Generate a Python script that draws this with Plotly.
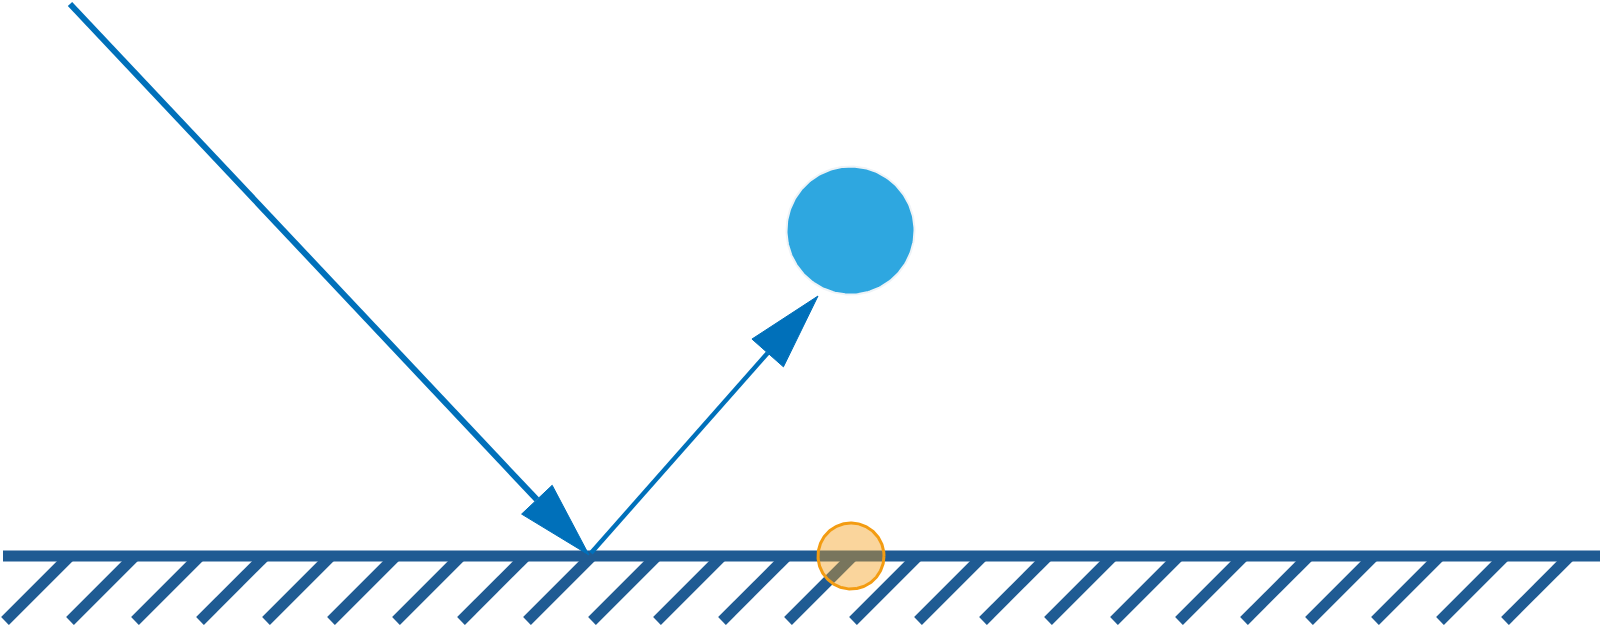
import numpy as np
import plotly.graph_objects as go

# --- data (pixel units, y grows downward) ---
surface_x = [3, 1600]
surface_y = [556, 556]

# bottom ends of the hatch strokes under the surface
hatch_x = [5, 70, 135, 200, 266, 331, 396, 461, 527, 592, 657, 722,
           788, 853, 918, 983, 1048, 1114, 1179, 1244, 1309, 1375, 1440, 1505]
hatch_bottom_y = 621
hatch_top_y = 556

# incoming and reflected rays (start -> arrow tip)
incident_x = [70, 589]
incident_y = [4, 555]
reflected_x = [591, 818]
reflected_y = [553, 296]

ball_center = [850.5, 230.5]
ball_radius = 64
spot_center = [851, 556]
spot_radius = 33

RAY = "#0070BA"
GROUND = "#1F5B93"


def arrow(xs, ys, head_len=76, head_half=21):
    """shaft end point and triangle vertices for an arrow ending at the last point"""
    p0 = np.array([xs[0], ys[0]], dtype=float)
    tip = np.array([xs[1], ys[1]], dtype=float)
    u = (tip - p0) / np.linalg.norm(tip - p0)
    n = np.array([-u[1], u[0]])
    base = tip - head_len * u
    tri = [tip, base + head_half * n, base - head_half * n, tip]
    return base, [p[0] for p in tri], [p[1] for p in tri]


def ring(center, r, n=240):
    # outline of a circle as a closed polygon (smoother than the marker/shape path here)
    t = np.linspace(0, 2 * np.pi, n)
    return center[0] + r * np.cos(t), center[1] + r * np.sin(t)


fig = go.Figure()

# hatches
hx, hy = [], []
for x in hatch_x:
    hx += [x, x + (hatch_bottom_y - hatch_top_y), None]
    hy += [hatch_bottom_y, hatch_top_y, None]
fig.add_trace(go.Scatter(x=hx, y=hy, mode="lines",
                         line=dict(color=GROUND, width=11)))

# surface
fig.add_trace(go.Scatter(x=surface_x, y=surface_y, mode="lines",
                         line=dict(color=GROUND, width=11)))

# rays with arrow heads
for xs, ys, w in [(incident_x, incident_y, 6), (reflected_x, reflected_y, 4.5)]:
    base, tx, ty = arrow(xs, ys)
    fig.add_trace(go.Scatter(x=[xs[0], base[0]], y=[ys[0], base[1]], mode="lines",
                             line=dict(color=RAY, width=w)))
    fig.add_trace(go.Scatter(x=tx, y=ty, mode="lines", fill="toself",
                             fillcolor=RAY, line=dict(color=RAY, width=1)))

# ball and contact spot
bx, by = ring(ball_center, ball_radius)
fig.add_trace(go.Scatter(x=bx, y=by, mode="lines", fill="toself",
                         fillcolor="#2EA7E0", line=dict(color="#EEF3F7", width=2)))
sx, sy = ring(spot_center, spot_radius)
fig.add_trace(go.Scatter(x=sx, y=sy, mode="lines", fill="toself",
                         fillcolor="rgba(243,156,18,0.42)",
                         line=dict(color="#F39C12", width=3)))

fig.update_layout(
    width=1600,
    height=626,
    margin=dict(l=0, r=0, t=0, b=0, pad=0),
    plot_bgcolor="white",
    paper_bgcolor="white",
    showlegend=False,
    hovermode=False,
    xaxis=dict(range=[0, 1600], visible=False, fixedrange=True),
    yaxis=dict(range=[626, 0], visible=False, fixedrange=True),
)

# page body has a default 8px margin; drop it so the figure sits at 0,0
fig.write_html("out.html", config={"displayModeBar": False},
               post_script="document.body.style.margin='0';document.body.style.overflow='hidden';")
